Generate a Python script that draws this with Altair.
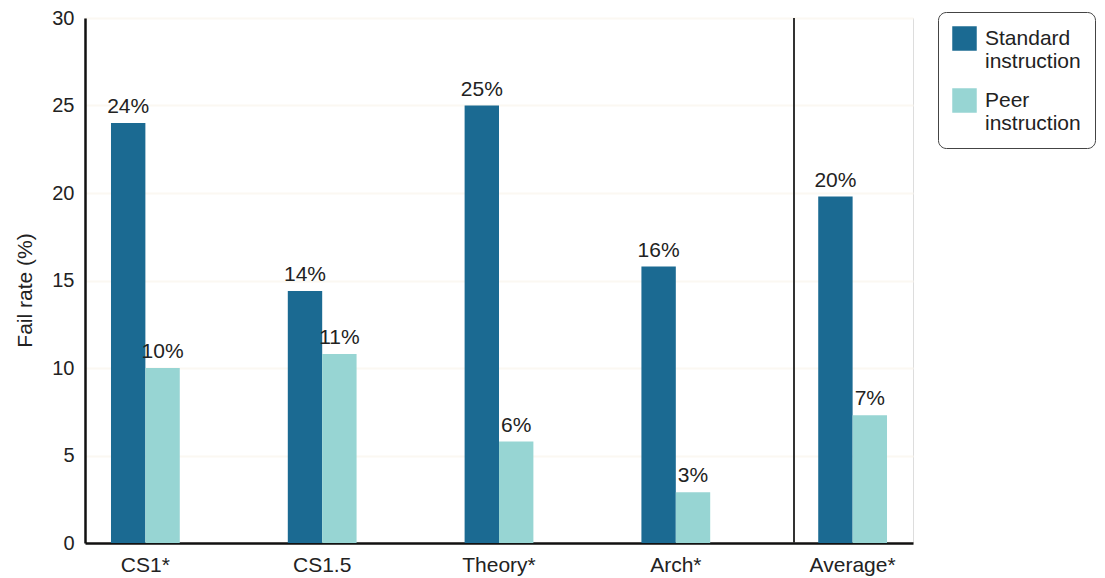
import altair as alt
import pandas as pd

courses = ["CS1*", "CS1.5", "Theory*", "Arch*", "Average*"]
standard = [24.0, 14.4, 25.0, 15.8, 19.8]
peer = [10.0, 10.8, 5.8, 2.9, 7.3]
series_names = ["Standard instruction", "Peer instruction"]
series_colors = ["#1B6A92", "#97D5D3"]

rows = []
for c, s, p in zip(courses, standard, peer):
    rows.append({"course": c, "series": series_names[0], "value": s})
    rows.append({"course": c, "series": series_names[1], "value": p})
df = pd.DataFrame(rows)

FONT = "Liberation Sans"
W, H = 828, 525

x = alt.X("course:N", sort=courses, title=None,
          scale=alt.Scale(paddingInner=0.611, paddingOuter=0.147),
          axis=alt.Axis(labelAngle=0, labelFontSize=21, labelColor="#222",
                        labelPadding=11, ticks=False, domainColor="#111",
                        domainWidth=2.5, labelFont=FONT))
y = alt.Y("value:Q", title="Fail rate (%)",
          scale=alt.Scale(domain=[0, 30], nice=False),
          axis=alt.Axis(values=[0, 5, 10, 15, 20, 25, 30], labelFontSize=20,
                        labelColor="#222", labelPadding=11, ticks=False,
                        domainColor="#111", domainWidth=2.5, gridColor="#FBF8F2",
                        gridWidth=2, titleFontSize=21, titleFontWeight="normal",
                        titleColor="#222", titlePadding=16, labelFont=FONT,
                        titleFont=FONT, titleY=272))
xo = alt.XOffset("series:N", sort=series_names, scale=alt.Scale(paddingInner=0, paddingOuter=0))

bars = alt.Chart(df).mark_bar().encode(
    x=x, y=y, xOffset=xo,
    color=alt.Color("series:N", sort=series_names,
                    scale=alt.Scale(domain=series_names, range=series_colors),
                    legend=alt.Legend(title=None, orient="none", legendX=853, legendY=-6,
                                      symbolType="square", symbolSize=600,
                                      symbolStrokeWidth=0, symbolOpacity=1,
                                      labelFontSize=21, labelFont=FONT, labelColor="#222",
                                      labelExpr="split(datum.label, ' ')",
                                      rowPadding=16, padding=14, cornerRadius=8,
                                      strokeColor="#444", fillColor="white",
                                      labelOffset=8, labelBaseline="middle",
                                      labelLimit=200))
)

labels = alt.Chart(df).transform_calculate(
    lab="format(datum.value, '.0f') + '%'"
).mark_text(baseline="bottom", dy=-6, fontSize=21, font=FONT, color="#222").encode(
    x=alt.X("course:N", sort=courses), y="value:Q",
    xOffset=alt.XOffset("series:N", sort=series_names), text="lab:N")

sep = alt.Chart(df).mark_rule(color="#333", strokeWidth=1.5).encode(
    x=alt.value(709), y=alt.value(0), y2=alt.value(H))

chart = alt.layer(bars, labels, sep).properties(
    width=W, height=H,
    padding={"left": 77, "top": 10, "right": 184, "bottom": 35},
    autosize=alt.AutoSizeParams(type="none")
).configure_view(fill="#EEE4D1", stroke="#D6BFAE", strokeWidth=1.2).configure(background="white")

chart.save("out.html", embed_options={"renderer": "svg", "actions": False})
